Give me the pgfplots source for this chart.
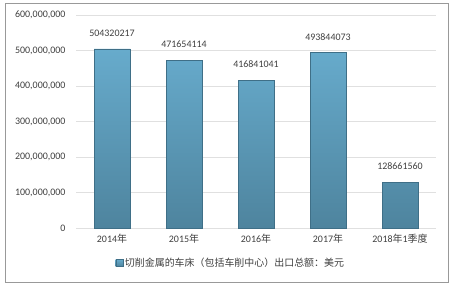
\documentclass[border=0pt]{standalone}
\usepackage{pgfplots}
\pgfplotsset{compat=1.18}
\usepackage{fontspec}
\setmainfont{Carlito}
\newfontfamily\cjk{Noto Sans CJK SC}
\definecolor{barTop}{HTML}{67ABCC}
\definecolor{barBot}{HTML}{4E849E}
\definecolor{barEdge}{HTML}{3F6F87}
\definecolor{txt}{HTML}{404040}
\definecolor{gridc}{HTML}{E0E0E0}
\begin{document}
\begin{tikzpicture}[x=1bp,y=1bp]
\useasboundingbox (0,0) rectangle (452,285);
\fill[white] (0,0) rectangle (452,285);
\draw[gray!80, line width=0.8bp] (5,3) rectangle (448,282);
\begin{axis}[
  at={(76bp,57bp)}, anchor=south west,
  scale only axis, width=360bp, height=213bp,
  xmin=-0.5, xmax=4.5, ymin=0, ymax=600000000,
  ytick={0,100000000,200000000,300000000,400000000,500000000,600000000},
  scaled y ticks=false,
  yticklabel style={xshift=-7bp, /pgf/number format/.cd, fixed, 1000 sep={,}, assume math mode=true},
  xtick=data,
  xticklabels={{2014{\cjk 年}},{2015{\cjk 年}},{2016{\cjk 年}},{2017{\cjk 年}},{2018{\cjk 年}1{\cjk 季度}}},
  tick label style={font=\fontsize{10}{12}\selectfont, text=txt},
  major tick length=0pt,
  axis x line*=bottom, axis y line*=left,
  x axis line style={draw=gridc, line width=0.8bp},
  y axis line style={draw=none},
  ymajorgrids, grid style={draw=gridc, line width=0.6bp},
  xticklabel style={yshift=-3bp},
  legend style={at={(0.43,-0.164)}, anchor=center, draw=none, fill=none,
    font=\fontsize{10}{12}\selectfont\cjk, text=txt, inner sep=0pt},
  legend image code/.code={\draw[fill=barBot, draw=barEdge] (0bp,-3.5bp) rectangle (7bp,3.5bp);},
  clip=false,
]
\addplot[ybar, bar width=36bp, draw=barEdge, top color=barTop, bottom color=barBot,
  point meta=explicit symbolic,
  nodes near coords, nodes near coords style={font=\fontsize{10}{12}\selectfont, text=txt, yshift=9bp}]
  coordinates {
  (0,504320217) [504320217]
  (1,471654114) [471654114]
  (2,416841041) [416841041]
  (3,493844073) [493844073]
  (4,128661560) [128661560]
  };
\addlegendentry{切削金属的车床（包括车削中心）出口总额：美元}
\end{axis}
\end{tikzpicture}
\end{document}
